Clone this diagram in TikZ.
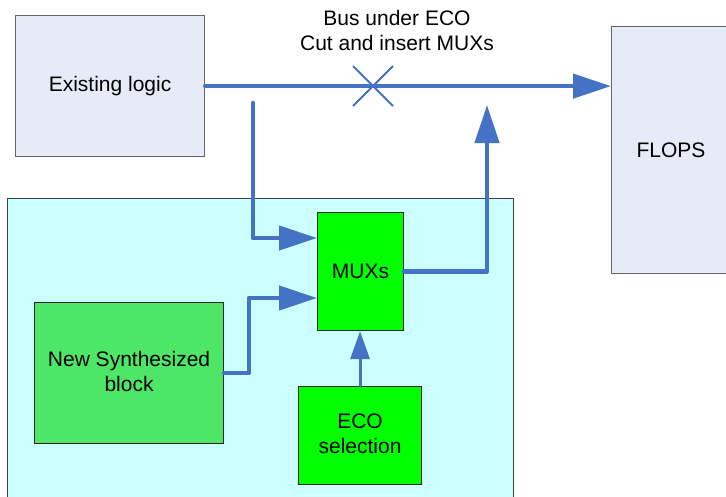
\documentclass[tikz,border=0pt]{standalone}
\usepackage{fontspec}
\setmainfont{Liberation Sans}
\usetikzlibrary{arrows.meta}
\definecolor{busblue}{RGB}{68,114,196}
\definecolor{paleblue}{RGB}{230,236,247}
\definecolor{areacyan}{RGB}{204,255,255}
\definecolor{midgreen}{RGB}{78,230,102}
\definecolor{puregreen}{RGB}{0,255,0}
\definecolor{boxgray}{RGB}{100,100,100}
\begin{document}
\begin{tikzpicture}[x=1pt,y=-1pt,
  font=\fontsize{21}{25}\selectfont,
  blk/.style={draw=boxgray, line width=1.2pt, inner sep=0pt, anchor=north west, align=center},
  gblk/.style={draw=black!85, line width=1.1pt, inner sep=0pt, anchor=north west, align=center},
  wire/.style={draw=busblue, line width=4.5pt, line cap=round, line join=round},
  bigtip/.style={-{Triangle[length=38pt,width=24pt]}},
  smalltip/.style={-{Triangle[length=28pt,width=19pt]}}]
\useasboundingbox (0,0) rectangle (726,496);
% background area
\node[draw=black!75, line width=1.2pt, fill=areacyan, inner sep=0pt, anchor=north west,
      minimum width=506pt, minimum height=310pt] (area) at (7,198) {};
% blocks
\node[blk, fill=paleblue, minimum width=189pt, minimum height=141pt] (el) at (15,15) {};
\node at (el.center) {Existing logic};
\node[blk, fill=paleblue, minimum width=125pt, minimum height=247pt] (fl) at (611,26) {};
\node at (671,150) {FLOPS};
\node[gblk, fill=puregreen, minimum width=86pt, minimum height=118pt] (mux) at (317,212) {};
\node at (mux.center) {MUXs};
\node[gblk, fill=midgreen, minimum width=189pt, minimum height=141pt] (ns) at (34,302) {};
\node[align=center] at ([yshift=2pt]ns.center) {New Synthesized\\block};
\node[gblk, fill=puregreen, minimum width=123pt, minimum height=98pt] (eco) at (298,386) {};
\node[align=center] at ([yshift=2pt]eco.center) {ECO\\selection};
% label
\node[align=center] (lbl) at (397,30) {Bus under ECO\\Cut and insert MUXs};
% coordinates
\coordinate (tap) at (253,103);
\coordinate (in1) at (317,238);
\coordinate (bend) at (249,298);
\coordinate (in2) at (317,298);
\coordinate (up) at (487,105);
% connectors
\draw[wire, bigtip] (el.east) -- (el.east -| fl.west);
\draw[busblue, line width=2pt] (353,66) -- (393,106) (353,106) -- (393,66);
\draw[wire, bigtip] (tap) |- (in1);
\draw[wire, bigtip] (mux.east) -| (up);
\draw[wire, bigtip] (ns.east) -| (bend) -- (in2);
\draw[wire, line width=3pt, smalltip] (eco.north) -- (eco.north |- mux.south);
\end{tikzpicture}
\end{document}
